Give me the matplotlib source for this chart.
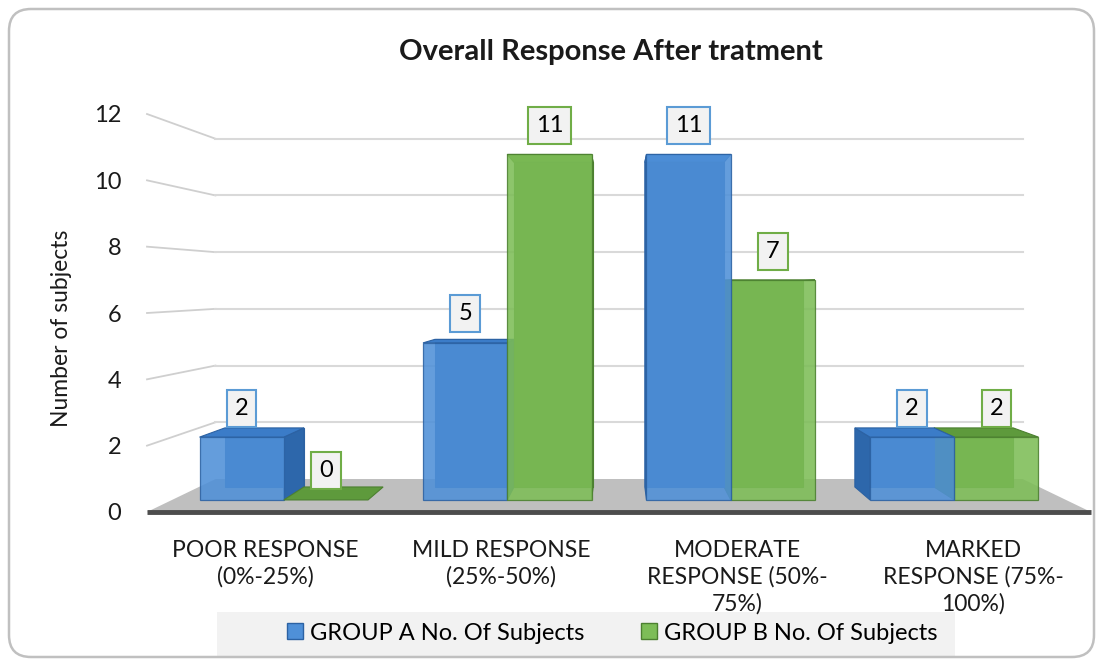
import matplotlib.pyplot as plt
import matplotlib.transforms as mtransforms
from matplotlib.patches import Polygon, Patch, FancyBboxPatch, Rectangle

plt.rcParams['font.family'] = ['Lato', 'DejaVu Sans']

categories = ["POOR RESPONSE\n(0%-25%)", "MILD RESPONSE\n(25%-50%)",
              "MODERATE\nRESPONSE (50%-\n75%)", "MARKED\nRESPONSE (75%-\n100%)"]
group_a = [2, 5, 11, 2]
group_b = [0, 11, 7, 2]
series_names = ["GROUP A No. Of Subjects", "GROUP B No. Of Subjects"]
yticks = [0, 2, 4, 6, 8, 10, 12]

# perspective set-up: s is the shrink factor for a given depth
CX = 1.5        # horizontal vanishing centre (category units)
YV = 6.86       # eye level (value units)
S_BACK = 0.855  # back wall
S_BAR_F = 0.947 # front face of the columns
S_BAR_B = 0.89  # back face of the columns
BAR_W = 0.377


def proj(x, s, v):
    return CX + (x - CX) * s, YV + (v - YV) * s


fig = plt.figure(figsize=(11.03, 6.66), dpi=100)
ax = fig.add_axes([147 / 1103, 154 / 666, 944 / 1103, 398 / 666])
ax.set_xlim(-0.5, 3.5)
ax.set_ylim(0, 12)
for sp in ax.spines.values():
    sp.set_visible(False)

# floor
floor = [proj(-0.5, 1, 0), proj(3.5, 1, 0), proj(3.5, S_BACK, 0), proj(-0.5, S_BACK, 0)]
ax.add_patch(Polygon(floor, closed=True, facecolor='#bfbfbf', edgecolor='none', zorder=1))
ax.plot([-0.5, 3.5], [0, 0], color='#4d4d4d', lw=3.5, solid_capstyle='butt', zorder=2,
        clip_on=False)

# gridlines on the side and back walls
for v in yticks[1:]:
    x0, y0 = proj(-0.5, 1, v)
    x1, y1 = proj(-0.5, S_BACK, v)
    x2, y2 = proj(3.5, S_BACK, v)
    ax.plot([x0, x1], [y0, y1], color='#cfcfcf', lw=1.3, zorder=1.5, clip_on=False)
    ax.plot([x1, x2], [y1, y2], color='#d9d9d9', lw=1.5, zorder=1.5, clip_on=False)

styles = [
    dict(front='#4f90d8', side='#2d67ab', top='#3b7cc8', edge='#2c62a3', label='#5b9bd5'),
    dict(front='#7dbd57', side='#548c34', top='#5e9a3c', edge='#4c8030', label='#70ad47'),
]


def draw_column(xl, v, st, z):
    xr = xl + BAR_W
    fl = proj(xl, S_BAR_F, 0)
    fr = proj(xr, S_BAR_F, 0)
    ftl = proj(xl, S_BAR_F, v)
    ftr = proj(xr, S_BAR_F, v)
    bl = proj(xl, S_BAR_B, 0)
    br = proj(xr, S_BAR_B, 0)
    btl = proj(xl, S_BAR_B, v)
    btr = proj(xr, S_BAR_B, v)
    if v == 0:
        ax.add_patch(Polygon([fl, fr, br, bl], closed=True, facecolor=st['top'],
                             edgecolor=st['edge'], lw=0.8, zorder=z))
        return
    # visible side faces the centre
    if xl + BAR_W / 2 < CX:
        side = [fr, br, btr, ftr]
    else:
        side = [fl, bl, btl, ftl]
    ax.add_patch(Polygon([bl, br, btr, btl], closed=True, facecolor=st['side'],
                         edgecolor=st['edge'], lw=0.8, zorder=z))
    ax.add_patch(Polygon(side, closed=True, facecolor=st['side'],
                         edgecolor=st['edge'], lw=0.8, zorder=z + 0.01))
    ax.add_patch(Polygon([ftl, ftr, btr, btl], closed=True, facecolor=st['top'],
                         edgecolor=st['edge'], lw=0.8, zorder=z + 0.02))
    ax.add_patch(Polygon([fl, fr, ftr, ftl], closed=True, facecolor=st['front'],
                         edgecolor=st['edge'], lw=0.9, alpha=0.88, zorder=z + 0.03))


# order columns so those nearer the centre are drawn last
columns = []
for i in range(len(categories)):
    for k, vals in enumerate([group_a, group_b]):
        xl = i - BAR_W + k * BAR_W
        columns.append((abs(xl + BAR_W / 2 - CX), xl, vals[i], k))
columns.sort(key=lambda c: -c[0])
for n, (_, xl, v, k) in enumerate(columns):
    draw_column(xl, v, styles[k], 3 + n * 0.1)

# value labels
for i in range(len(categories)):
    for k, vals in enumerate([group_a, group_b]):
        xc = i - BAR_W / 2 + k * BAR_W
        px, py = proj(xc, S_BAR_F, vals[i])
        ax.annotate(str(vals[i]), xy=(px, py), xytext=(0, 29), textcoords='offset pixels',
                    ha='center', va='center', fontsize=17, color='black', zorder=10,
                    bbox=dict(boxstyle='square,pad=0.34', facecolor='#f2f2f2',
                              edgecolor=styles[k]['label'], lw=1.5))

ax.set_yticks(yticks)
ax.set_xticks(range(len(categories)))
ax.set_xticklabels(categories, fontsize=16.5, color='#1a1a1a', linespacing=1.32)
ax.tick_params(axis='y', length=0, pad=18.5, labelsize=17, labelcolor='#1a1a1a')
ax.tick_params(axis='x', length=0, pad=20)

fig.text(62 / 1103, 1 - 328 / 666, "Number of subjects", rotation=90, ha='center',
         va='center', fontsize=16.5, color='#1a1a1a')
fig.text(611 / 1103, 1 - 52 / 666, "Overall Response After tratment", ha='center',
         va='center', fontsize=21, fontweight='bold', color='#1a1a1a')

# legend strip and entries
fig.add_artist(Rectangle((217, 666 - 657), 738, 45, transform=mtransforms.IdentityTransform(),
                         facecolor='#f2f2f2', edgecolor='none', zorder=0))
handles = [Patch(facecolor=styles[0]['front'], edgecolor=styles[0]['edge']),
           Patch(facecolor=styles[1]['front'], edgecolor=styles[1]['edge'])]
leg = fig.legend(handles, series_names, loc='center', bbox_to_anchor=(612 / 1103, 1 - 633 / 666),
                 ncol=2, frameon=False, fontsize=17, handlelength=0.68, handleheight=0.68,
                 handletextpad=0.3, columnspacing=2.4, borderpad=0.2)

# rounded chart border
fig.add_artist(FancyBboxPatch((9, 9), 1085, 648, boxstyle='round,pad=0,rounding_size=22',
                              transform=mtransforms.IdentityTransform(), facecolor='none',
                              edgecolor='#c0c0c0', lw=1.8))

fig.savefig('out.png', dpi=100)
